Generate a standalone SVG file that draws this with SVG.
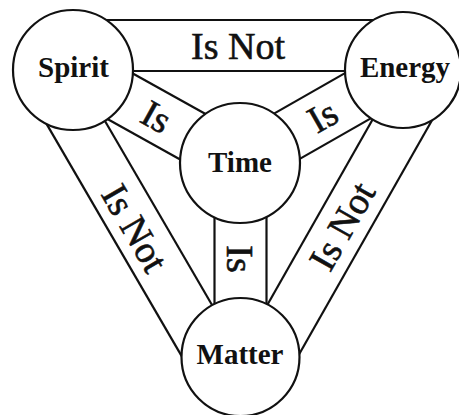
<svg xmlns="http://www.w3.org/2000/svg" width="459" height="415" viewBox="0 0 459 415">
  <style>
    .band { stroke: #111; stroke-width: 2.2; fill: none; }
    .node { fill: #fff; stroke: #111; stroke-width: 2.2; }
    .nlabel { font-family: "Liberation Serif", "Times New Roman", serif; font-weight: bold; font-size: 29px; fill: #111; text-anchor: middle; }
    .elabel { font-family: "Liberation Serif", "Times New Roman", serif; font-size: 38px; fill: #111; stroke: #111; stroke-width: 0.6; text-anchor: middle; }
  </style>
  <rect width="459" height="415" fill="#fff"/>
  <g id="connectors">
    <g id="spirit-energy">
      <line class="band" x1="73" y1="20" x2="403" y2="20"/>
      <line class="band" x1="73" y1="71" x2="403" y2="71"/>
      <text class="elabel" x="238" y="59">Is Not</text>
    </g>
    <g id="spirit-time">
      <line class="band" x1="60.3" y1="92.7" x2="227.3" y2="185.7"/>
      <line class="band" x1="85.7" y1="47.3" x2="252.7" y2="140.3"/>
      <text class="elabel" transform="translate(156.5 116.5) rotate(29.1)" x="0" y="13">Is</text>
    </g>
    <g id="time-energy">
      <line class="band" x1="252.9" y1="185.6" x2="415.9" y2="92.6"/>
      <line class="band" x1="227.1" y1="140.4" x2="390.1" y2="47.4"/>
      <text class="elabel" transform="translate(322.4 116) rotate(-29.7)" x="0" y="13">Is</text>
    </g>
    <g id="time-matter">
      <line class="band" x1="214.5" y1="163" x2="214.5" y2="357"/>
      <line class="band" x1="266.5" y1="163" x2="266.5" y2="357"/>
      <text class="elabel" transform="translate(240 259) rotate(90)" x="0" y="13">Is</text>
    </g>
    <g id="spirit-matter">
      <line class="band" x1="74.7" y1="69" x2="241.7" y2="356"/>
      <line class="band" x1="29.8" y1="95.1" x2="196.8" y2="382.1"/>
      <text class="elabel" transform="translate(135 228) rotate(59.8)" x="0" y="13">Is Not</text>
    </g>
    <g id="energy-matter">
      <line class="band" x1="401.3" y1="69" x2="238.3" y2="356"/>
      <line class="band" x1="446.5" y1="94.7" x2="283.5" y2="381.7"/>
      <text class="elabel" transform="translate(342 226) rotate(-60.4)" x="0" y="13">Is Not</text>
    </g>
  </g>
  <g id="spirit">
    <circle class="node" cx="73" cy="70" r="60"/>
    <text class="nlabel" x="73.5" y="77">Spirit</text>
  </g>
  <g id="energy">
    <circle class="node" cx="403" cy="70" r="58"/>
    <text class="nlabel" x="405" y="77">Energy</text>
  </g>
  <g id="time">
    <circle class="node" cx="240" cy="163" r="60"/>
    <text class="nlabel" x="240" y="172">Time</text>
  </g>
  <g id="matter">
    <circle class="node" cx="240.5" cy="357" r="59"/>
    <text class="nlabel" x="240" y="364">Matter</text>
  </g>
</svg>
